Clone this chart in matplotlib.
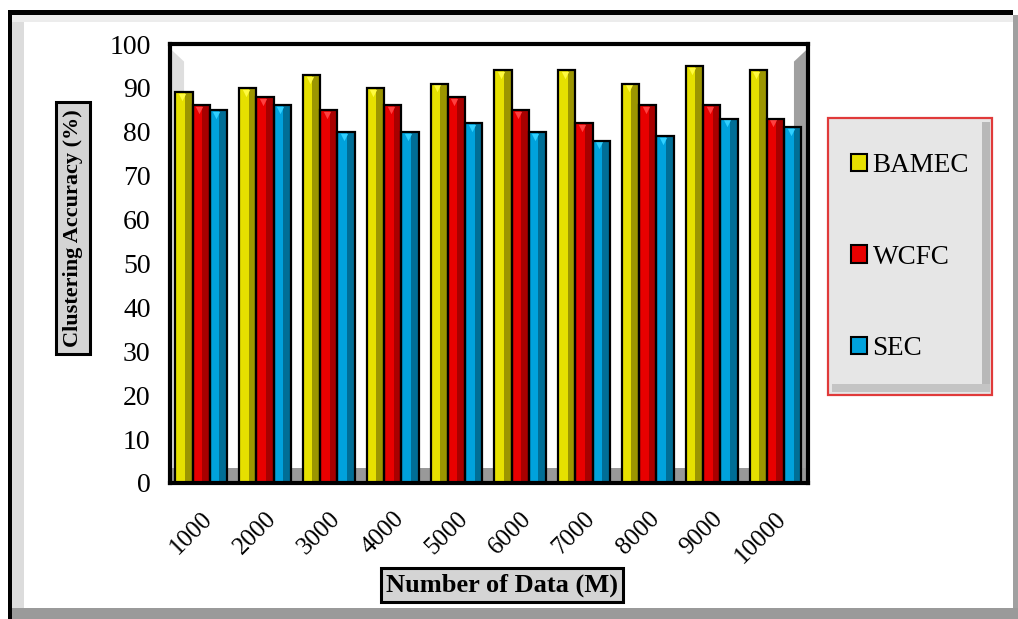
import numpy as np
import matplotlib
matplotlib.use("Agg")
from matplotlib import pyplot as plt
from matplotlib.patches import Rectangle, Polygon, Patch

plt.rcParams['font.family'] = ['Liberation Serif', 'DejaVu Serif']

sizes = ['1000', '2000', '3000', '4000', '5000', '6000', '7000', '8000', '9000', '10000']
bamec = [89, 90, 93, 90, 91, 94, 94, 91, 95, 94]
wcfc = [86, 88, 85, 86, 88, 85, 82, 86, 86, 83]
sec = [85, 86, 80, 80, 82, 80, 78, 79, 83, 81]
names = ['BAMEC', 'WCFC', 'SEC']
light = ['#e6e000', '#e80000', '#00a2dc']
dark = ['#9c9600', '#a80000', '#006e96']
tip = ['#fffa40', '#ff4040', '#30d0ff']

W, H = 1018, 619
fig = plt.figure(figsize=(W / 100, H / 100), dpi=100)


def fx(x):
    return x / W


def fy(y):
    return 1 - y / H


def box(x0, y0, x1, y1, **kw):
    # rectangle given in pixel coords, y measured from the top
    r = Rectangle((fx(x0), fy(y1)), fx(x1) - fx(x0), fy(y0) - fy(y1),
                  transform=fig.transFigure, **kw)
    fig.add_artist(r)
    return r


# outer frame with bevel
box(12, 15, 1013, 608, facecolor='white', lw=0, zorder=0)
box(12, 15, 24, 608, facecolor='#dcdcdc', lw=0, zorder=0)
box(12, 15, 1013, 22, facecolor='#ececec', lw=0, zorder=0)
box(8, 10, 1013, 15, facecolor='black', lw=0, zorder=1)
box(8, 10, 12, 619, facecolor='black', lw=0, zorder=1)
box(1013, 15, 1018, 619, facecolor='#a0a0a0', lw=0, zorder=1)
box(12, 608, 1018, 619, facecolor='#9a9a9a', lw=0, zorder=1)

ax = fig.add_axes([fx(170), fy(483), fx(808) - fx(170), fy(44) - fy(483)])
ax.set_xlim(0, len(sizes))
ax.set_ylim(0, 100)

# back walls and floor
ax.add_patch(Polygon([[0, 0], [0, 99], [0.22, 96], [0.22, 0]],
                     closed=True, facecolor='#dedede', lw=0, zorder=1))
ax.add_patch(Polygon([[9.78, 0], [9.78, 96], [10, 99], [10, 0]],
                     closed=True, facecolor='#a0a0a0', lw=0, zorder=1))
ax.axhspan(0, 3.4, color='#999999', lw=0, zorder=1)

x = np.arange(len(sizes)) + 0.49
w = 0.27
for k, vals in enumerate([bamec, wcfc, sec]):
    xs = x + (k - 1) * w
    ax.bar(xs, vals, w, color=dark[k], lw=0, zorder=3)
    ax.bar(xs - w / 2, vals, w * 0.55, align='edge', color=light[k], lw=0, zorder=4)
    ax.scatter(xs - w * 0.12, np.array(vals) - 1.1, marker='v', s=28,
               color=tip[k], lw=0, zorder=5)
    ax.bar(xs, vals, w, fill=False, edgecolor='black', lw=1.6, zorder=6)

for s in ax.spines.values():
    s.set_linewidth(3)
    s.set_color('black')
    s.set_zorder(7)

ax.set_yticks(range(0, 101, 10))
ax.set_yticklabels([str(v) for v in range(0, 101, 10)], fontsize=20)
ax.set_xticks(x)
ax.set_xticklabels(sizes, fontsize=18, rotation=45, ha='right', va='top',
                   rotation_mode='anchor')
ax.tick_params(axis='y', length=0, pad=14)
ax.tick_params(axis='x', length=0, pad=18)

lbl = dict(boxstyle='square,pad=0.3', facecolor='#d4d4d4', edgecolor='black', lw=2.2)
fig.text(fx(73), fy(228), 'Clustering Accuracy (%)', rotation=90, fontsize=16,
         fontweight='bold', ha='center', va='center', bbox=lbl)
fig.text(fx(502), fy(585), 'Number of Data (M)', fontsize=19, fontweight='bold',
         ha='center', va='center',
         bbox=dict(boxstyle='square,pad=0.2', facecolor='#d4d4d4', edgecolor='black', lw=2.2))

# legend panel
box(828, 118, 992, 395, facecolor='#e6e6e6', edgecolor='#e03a3a', lw=1.6, zorder=2)
box(982, 122, 990, 392, facecolor='#b8b8b8', lw=0, zorder=2)
box(832, 384, 990, 392, facecolor='#c4c4c4', lw=0, zorder=2)
handles = [Patch(facecolor=light[i], edgecolor='black', lw=1.5) for i in range(3)]
fig.legend(handles, names, loc='center', bbox_to_anchor=(fx(910), fy(257)),
           frameon=False, fontsize=19.5, labelspacing=2.45, handlelength=0.6,
           handleheight=0.6, handletextpad=0.2)

fig.savefig('out.png', dpi=100)
